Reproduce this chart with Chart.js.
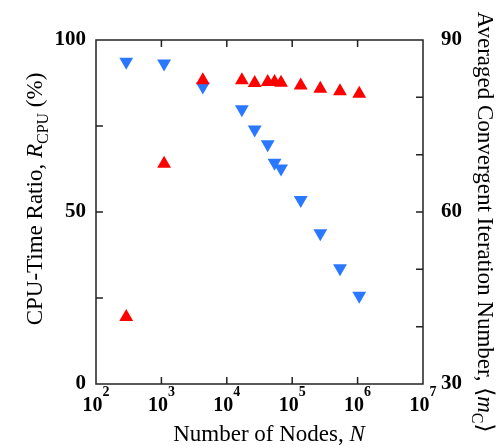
<!DOCTYPE html>
<html><head><meta charset="utf-8">
<script src="https://cdn.jsdelivr.net/npm/chart.js@4/dist/chart.umd.min.js"></script>
<style>html,body{margin:0;padding:0;background:#fff}#wrap{width:502px;height:448px;position:relative}</style>
</head><body><div id="wrap"><canvas id="c" width="502" height="448"></canvas></div>
<script>
// ---- data ----
const nodes = [290, 1100, 4300, 17000, 26700, 42200, 53700, 67500, 135000, 269000, 538000, 1060000];
const cpuRatio = [19.5, 64.0, 88.3, 88.3, 87.5, 87.8, 87.8, 87.6, 86.8, 85.8, 85.1, 84.4];
const iterations = [86.2, 85.9, 81.9, 77.9, 74.4, 71.8, 68.6, 67.6, 62.1, 56.3, 50.2, 45.4];
const xTickExponents = [2, 3, 4, 5, 6, 7];
const leftTickLabels = [0, 50, 100];
const rightTickLabels = [30, 60, 90];

const SERIF = '"Liberation Serif", "DejaVu Serif", serif';

function drawRun(ctx, segs, x, y) {
  let total = 0;
  segs.forEach(s => { ctx.font = s.font; s.w = ctx.measureText(s.text).width; total += s.w; });
  let cx = x - total / 2;
  segs.forEach(s => { ctx.font = s.font; ctx.fillText(s.text, cx, y + (s.dy || 0)); cx += s.w; });
}

const decor = {
  id: 'decor',
  afterDraw(chart) {
    const ctx = chart.ctx, a = chart.chartArea;
    const sx = chart.scales.x, sl = chart.scales.yL, sr = chart.scales.yR;
    ctx.save();
    ctx.strokeStyle = '#222';
    ctx.lineWidth = 1.5;
    ctx.strokeRect(a.left, a.top, a.right - a.left, a.bottom - a.top);
    const TL = 7;
    ctx.beginPath();
    xTickExponents.slice(1, -1).forEach(e => {
      const px = sx.getPixelForValue(Math.pow(10, e));
      ctx.moveTo(px, a.bottom); ctx.lineTo(px, a.bottom - TL);
      ctx.moveTo(px, a.top); ctx.lineTo(px, a.top + TL);
    });
    [25, 50, 75].forEach(v => {
      const py = sl.getPixelForValue(v);
      ctx.moveTo(a.left, py); ctx.lineTo(a.left + TL, py);
    });
    [40, 50, 60, 70, 80].forEach(v => {
      const py = sr.getPixelForValue(v);
      ctx.moveTo(a.right, py); ctx.lineTo(a.right - TL, py);
    });
    ctx.stroke();

    ctx.fillStyle = '#000';
    ctx.textBaseline = 'alphabetic';
    ctx.textAlign = 'left';
    // x tick labels 10^k
    xTickExponents.forEach(e => {
      const px = sx.getPixelForValue(Math.pow(10, e));
      drawRun(ctx, [
        { text: '10', font: 'bold 20px ' + SERIF },
        { text: String(e), font: 'bold 14px ' + SERIF, dy: -15 }
      ], px, 411);
    });
    // x title
    drawRun(ctx, [
      { text: 'Number of Nodes, ', font: '23px ' + SERIF },
      { text: 'N', font: 'italic 23px ' + SERIF }
    ], 269, 441);
    // left title
    ctx.save();
    ctx.translate(42, 199);
    ctx.rotate(-Math.PI / 2);
    drawRun(ctx, [
      { text: 'CPU-Time Ratio, ', font: '23px ' + SERIF },
      { text: 'R', font: 'italic 23px ' + SERIF },
      { text: 'CPU', font: '16px ' + SERIF, dy: 6 },
      { text: ' (%)', font: '23px ' + SERIF }
    ], 0, 0);
    ctx.restore();
    // right title
    ctx.save();
    ctx.translate(478, 222);
    ctx.rotate(Math.PI / 2);
    drawRun(ctx, [
      { text: 'Averaged Convergent Iteration Number, ', font: '23px ' + SERIF },
      { text: '\u27E8', font: '23px ' + SERIF },
      { text: 'm', font: 'italic 23px ' + SERIF },
      { text: 'C', font: '16px ' + SERIF, dy: 6 },
      { text: '\u27E9', font: '23px ' + SERIF }
    ], 0, 0);
    ctx.restore();
    ctx.restore();
  }
};

new Chart(document.getElementById('c'), {
  type: 'scatter',
  data: {
    datasets: [
      {
        label: 'CPU-Time Ratio',
        data: nodes.map((n, i) => ({ x: n, y: cpuRatio[i] })),
        yAxisID: 'yL',
        pointStyle: 'triangle',
        pointRadius: 8,
        pointHoverRadius: 8,
        backgroundColor: '#ff0000',
        borderColor: '#ff0000',
        borderWidth: 0
      },
      {
        label: 'Averaged Convergent Iteration Number',
        data: nodes.map((n, i) => ({ x: n, y: iterations[i] })),
        yAxisID: 'yR',
        pointStyle: 'triangle',
        rotation: 180,
        pointRadius: 8,
        pointHoverRadius: 8,
        backgroundColor: '#2a78ff',
        borderColor: '#2a78ff',
        borderWidth: 0
      }
    ]
  },
  options: {
    responsive: false,
    animation: false,
    layout: { padding: { left: 0, right: 0, top: 40, bottom: 0 } },
    plugins: { legend: { display: false }, tooltip: { enabled: false } },
    scales: {
      x: {
        type: 'logarithmic', min: 100, max: 1e7, position: 'bottom',
        grid: { display: false, drawTicks: false },
        border: { display: false },
        ticks: { display: false },
        afterFit: s => { s.height = 64; }
      },
      yL: {
        type: 'linear', min: 0, max: 100, position: 'left',
        grid: { display: false, drawTicks: false },
        border: { display: false },
        ticks: {
          stepSize: 25, padding: 10, color: '#000',
          font: { family: SERIF, size: 21, weight: 'bold' },
          callback: v => leftTickLabels.includes(v) ? String(v) : ''
        },
        afterFit: s => { s.width = 96; }
      },
      yR: {
        type: 'linear', min: 30, max: 90, position: 'right',
        grid: { display: false, drawTicks: false },
        border: { display: false },
        ticks: {
          stepSize: 10, padding: 18, color: '#000',
          font: { family: SERIF, size: 21, weight: 'bold' },
          callback: v => rightTickLabels.includes(v) ? String(v) : ''
        },
        afterFit: s => { s.width = 79; }
      }
    }
  },
  plugins: [decor]
});
</script>
</body></html>
